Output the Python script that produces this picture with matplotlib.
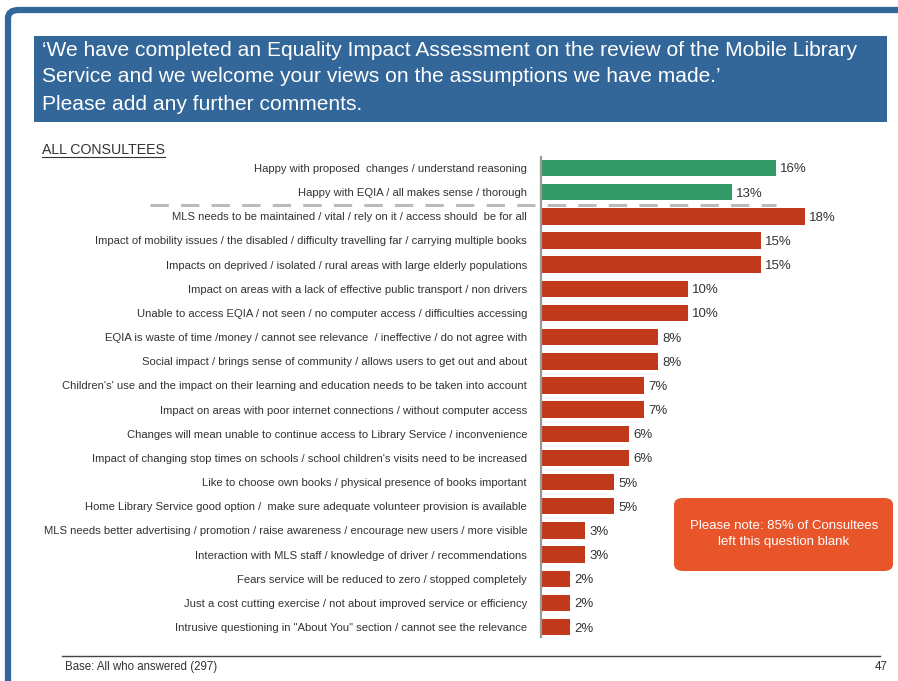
import matplotlib.pyplot as plt
from matplotlib.patches import FancyBboxPatch, Rectangle
from matplotlib.lines import Line2D

W, H = 898, 681

labels = [
    "Happy with proposed  changes / understand reasoning",
    "Happy with EQIA / all makes sense / thorough",
    "MLS needs to be maintained / vital / rely on it / access should  be for all",
    "Impact of mobility issues / the disabled / difficulty travelling far / carrying multiple books",
    "Impacts on deprived / isolated / rural areas with large elderly populations",
    "Impact on areas with a lack of effective public transport / non drivers",
    "Unable to access EQIA / not seen / no computer access / difficulties accessing",
    "EQIA is waste of time /money / cannot see relevance  / ineffective / do not agree with",
    "Social impact / brings sense of community / allows users to get out and about",
    "Children's' use and the impact on their learning and education needs to be taken into account",
    "Impact on areas with poor internet connections / without computer access",
    "Changes will mean unable to continue access to Library Service / inconvenience",
    "Impact of changing stop times on schools / school children's visits need to be increased",
    "Like to choose own books / physical presence of books important",
    "Home Library Service good option /  make sure adequate volunteer provision is available",
    "MLS needs better advertising / promotion / raise awareness / encourage new users / more visible",
    "Interaction with MLS staff / knowledge of driver / recommendations",
    "Fears service will be reduced to zero / stopped completely",
    "Just a cost cutting exercise / not about improved service or efficiency",
    "Intrusive questioning in \"About You\" section / cannot see the relevance",
]
values = [16, 13, 18, 15, 15, 10, 10, 8, 8, 7, 7, 6, 6, 5, 5, 3, 3, 2, 2, 2]
positive = 2  # first two rows are positive comments

title_lines = [
    "\u2018We have completed an Equality Impact Assessment on the review of the Mobile Library",
    "Service and we welcome your views on the assumptions we have made.\u2019",
    "Please add any further comments.",
]
note = "Please note: 85% of Consultees\nleft this question blank"
base_text = "Base: All who answered (297)"
page_no = "47"

BLUE = "#336699"
GREEN = "#339966"
RED = "#C0391B"
NOTE = "#E8552A"
TXT = "#333333"

plt.rcParams['font.family'] = ['Liberation Sans', 'DejaVu Sans']


def fx(x):
    return x / W


def fy(y):
    return 1 - y / H


fig = plt.figure(figsize=(W / 100, H / 100), dpi=100)
fig.patch.set_facecolor("white")

# slide frame
fig.patches.append(FancyBboxPatch((fx(8), fy(760)), fx(1000), 750 / H,
                                  boxstyle="round,pad=0,rounding_size=0.012",
                                  transform=fig.transFigure, fc="none",
                                  ec=BLUE, lw=4.5, clip_on=False))

# title box
fig.patches.append(Rectangle((fx(34), fy(122)), fx(853), 86 / H,
                             transform=fig.transFigure, fc=BLUE, ec="none"))
for yy, line in zip([50, 76, 105], title_lines):
    fig.text(fx(42), fy(yy), line, color="white", fontsize=15.1,
             va="center", ha="left")

# section heading, underlined
fig.text(fx(42), fy(150), "ALL CONSULTEES", color=TXT, fontsize=10.2,
         va="center", ha="left")
fig.lines.append(Line2D([fx(42), fx(165)], [fy(157), fy(157)],
                        transform=fig.transFigure, color=TXT, lw=0.8))

# bar chart
ax = fig.add_axes([fx(541), fy(637), fx(352), 480 / H])
ypos = list(range(len(values)))
colors = [GREEN if i < positive else RED for i in ypos]
ax.barh(ypos, values, height=0.68, color=colors)
for i, v in enumerate(values):
    ax.text(v + 0.3, i + 0.06, f"{v}%", va="center", ha="left", fontsize=9.5, color=TXT)
ax.set_xlim(0, 24)
ax.set_ylim(len(values) - 1 + 0.41, -0.455)
ax.set_yticks(ypos)
ax.set_yticklabels(labels, fontsize=8.15, color=TXT)
ax.tick_params(axis="y", length=0, pad=10)
ax.set_xticks([])
for s in ["top", "right", "bottom"]:
    ax.spines[s].set_visible(False)
ax.spines["left"].set_color("#999999")
ax.spines["left"].set_linewidth(1.6)
ax.patch.set_alpha(0)

# divider between positive and negative comments
fig.lines.append(Line2D([fx(150), fx(776)], [fy(205), fy(205)],
                        transform=fig.transFigure, color="#BBBBBB", lw=2.2,
                        dashes=(6, 4)))

# callout note
fig.patches.append(FancyBboxPatch((fx(674), fy(571)), fx(219), 73 / H,
                                  boxstyle="round,pad=0,rounding_size=0.01",
                                  transform=fig.transFigure, fc=NOTE, ec="none"))
fig.text(fx(784), fy(534), note, color="white", fontsize=9.5, ha="center",
         va="center", linespacing=1.5)

# footer
fig.lines.append(Line2D([fx(62), fx(880)], [fy(656), fy(656)],
                        transform=fig.transFigure, color="#444444", lw=1))
fig.text(fx(65), fy(667), base_text, color=TXT, fontsize=8.3, va="center")
fig.text(fx(888), fy(667), page_no, color=TXT, fontsize=8.3, va="center", ha="right")

fig.savefig("out.png", dpi=100)
